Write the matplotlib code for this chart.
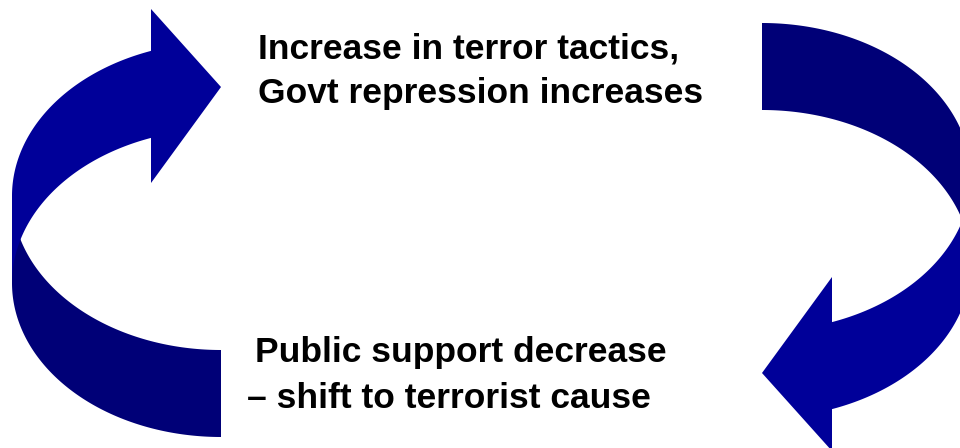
import numpy as np
import matplotlib
matplotlib.use("Agg")
import matplotlib.pyplot as plt
from matplotlib.patches import Polygon

# ---- text content ----
top_lines = ["Increase in terror tactics,", "Govt repression increases"]
bottom_lines = ["Public support decrease", "\u2013 shift to terrorist cause"]

# ---- shape parameters (pixel space of a 960x448 canvas) ----
ell_cx = 221
ell_cy_outer_front = 196
ell_cy_inner_front = 283
ell_rx = 209
ell_ry = 154
head_base_x = 151
head_top_y = 9
head_bot_y = 183
head_tip = (221, 87)
rot_center = (491.5, 230)
front_color = "#000099"
back_color = "#000077"

W, H = 960, 448
fig = plt.figure(figsize=(9.6, 4.48), dpi=100)
ax = fig.add_axes([0, 0, 1, 1])
ax.set_xlim(0, W)
ax.set_ylim(H, 0)
ax.axis("off")


def arc(cy, t0, t1, n=120):
    t = np.linspace(t0, t1, n)
    return np.column_stack([ell_cx + ell_rx * np.cos(t), cy + ell_ry * np.sin(t)])


t_h = np.pi + np.arccos((ell_cx - head_base_x) / ell_rx)

front = np.vstack([
    arc(ell_cy_outer_front, np.pi, t_h),
    [[head_base_x, head_top_y], list(head_tip), [head_base_x, head_bot_y]],
    arc(ell_cy_inner_front, t_h, np.pi),
])
back = np.vstack([
    arc(ell_cy_inner_front, np.pi, np.pi / 2),
    arc(ell_cy_outer_front, np.pi / 2, np.pi),
])


def rot(p):
    return np.column_stack([2 * rot_center[0] - p[:, 0], 2 * rot_center[1] - p[:, 1]])


for b, f in [(back, front), (rot(back), rot(front))]:
    ax.add_patch(Polygon(b, closed=True, facecolor=back_color, edgecolor="none"))
    ax.add_patch(Polygon(f, closed=True, facecolor=front_color, edgecolor="none"))

font = dict(family=["Liberation Sans", "DejaVu Sans"], fontweight="bold",
            fontsize=25.5, color="black", ha="left", va="baseline")
ax.text(258, 59, top_lines[0], **font)
ax.text(258, 103, top_lines[1], **font)
ax.text(255, 362, bottom_lines[0], **font)
ax.text(247, 408, bottom_lines[1], **font)

fig.savefig("out.png", dpi=100)
